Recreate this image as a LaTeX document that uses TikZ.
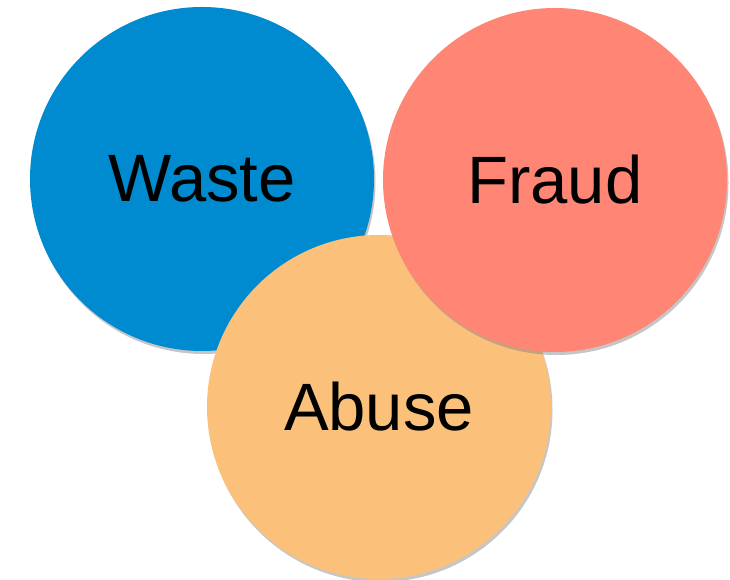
\documentclass[tikz,border=0pt]{standalone}
\usepackage{fontspec}
\setmainfont{Liberation Sans}
\usetikzlibrary{shadows}

\definecolor{wasteblue}{RGB}{0,139,208}
\definecolor{fraudred}{RGB}{255,133,117}
\definecolor{abuseorange}{RGB}{251,193,123}

\tikzset{
    bubble/.style={circle, minimum size=344pt, inner sep=0pt,
        font=\fontsize{67}{80}\selectfont,
        drop shadow={opacity=0.45, shadow xshift=1.5pt, shadow yshift=-3pt}},
}

\begin{document}
\begin{tikzpicture}[x=1pt,y=1pt]

    \useasboundingbox (0,0) rectangle (730,580);

    % waste (bottom of the stack)
    \node[bubble, fill=wasteblue] (waste) at (202,401) {Waste};

    % abuse
    \node[bubble, fill=abuseorange] (abuse) at (379,173) {Abuse};

    % fraud (on top)
    \node[bubble, fill=fraudred] (fraud) at (555,400) {Fraud};

\end{tikzpicture}
\end{document}
